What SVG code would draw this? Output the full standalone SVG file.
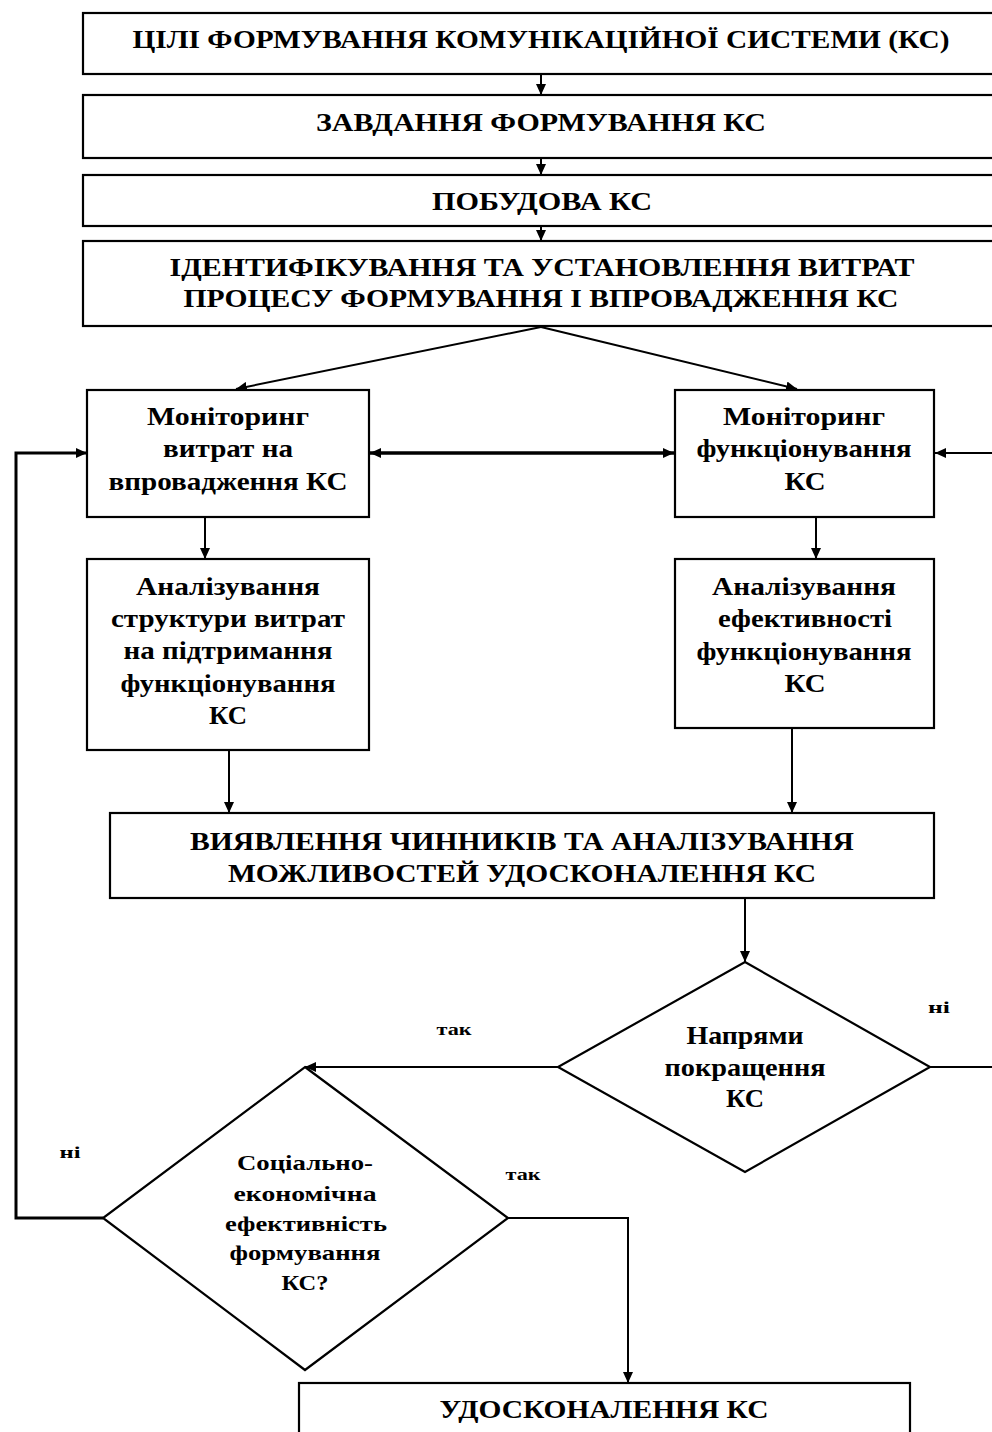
<svg xmlns="http://www.w3.org/2000/svg" width="992" height="1432" viewBox="0 0 992 1432">
<style>
.box{fill:#fff;stroke:#000;stroke-width:2.2}
.t{font-family:"Liberation Serif","Times New Roman",serif;font-weight:bold;fill:#000;text-anchor:middle;lengthAdjust:spacingAndGlyphs}
.big{font-size:26px}
.mid{font-size:25px}
.sm{font-size:22px}
.lbl{font-size:16px}
.c{fill:none;stroke:#000;stroke-width:2}
</style>
<defs>
<marker id="ah" markerUnits="userSpaceOnUse" markerWidth="12" markerHeight="10" refX="11" refY="5" orient="auto-start-reverse">
<path d="M0,0 L11,5 L0,10 z" fill="#000"/>
</marker>
</defs>
<rect width="992" height="1432" fill="#fff"/>

<g id="connectors">
<path class="c" d="M541,75 L541,95" marker-end="url(#ah)"/>
<path class="c" d="M541,159 L541,175" marker-end="url(#ah)"/>
<path class="c" d="M541,227 L541,241" marker-end="url(#ah)"/>
<path class="c" d="M541,327 L236,389" marker-end="url(#ah)"/>
<path class="c" d="M541,327 L797,389" marker-end="url(#ah)"/>
<path class="c" style="stroke-width:3.5" d="M370,453 L674,453" marker-start="url(#ah)" marker-end="url(#ah)"/>
<path class="c" d="M205,518 L205,559" marker-end="url(#ah)"/>
<path class="c" d="M816,518 L816,559" marker-end="url(#ah)"/>
<path class="c" d="M229,751 L229,813" marker-end="url(#ah)"/>
<path class="c" d="M792,729 L792,813" marker-end="url(#ah)"/>
<path class="c" d="M745,899 L745,962" marker-end="url(#ah)"/>
<path class="c" d="M558,1067 L305,1067" marker-end="url(#ah)"/>
<path class="c" d="M930,1067 L1010,1067 L1010,453 L935,453" marker-end="url(#ah)"/>
<path class="c" style="stroke-width:3" d="M103,1218 L16,1218 L16,453 L87,453" marker-end="url(#ah)"/>
<path class="c" d="M508,1218 L628,1218 L628,1383" marker-end="url(#ah)"/>
</g>

<g id="n1">
<rect class="box" x="83" y="13" width="930" height="61"/>
<text class="t big" x="541" y="48" textLength="817" lengthAdjust="spacingAndGlyphs">ЦІЛІ ФОРМУВАННЯ КОМУНІКАЦІЙНОЇ СИСТЕМИ (КС)</text>
</g>
<g id="n2">
<rect class="box" x="83" y="95" width="930" height="63"/>
<text class="t big" x="541" y="131" textLength="450" lengthAdjust="spacingAndGlyphs">ЗАВДАННЯ ФОРМУВАННЯ КС</text>
</g>
<g id="n3">
<rect class="box" x="83" y="175" width="930" height="51"/>
<text class="t big" x="542" y="210" textLength="220" lengthAdjust="spacingAndGlyphs">ПОБУДОВА КС</text>
</g>
<g id="n4">
<rect class="box" x="83" y="241" width="930" height="85"/>
<text class="t big" x="542" y="276" textLength="745" lengthAdjust="spacingAndGlyphs">ІДЕНТИФІКУВАННЯ ТА УСТАНОВЛЕННЯ ВИТРАТ</text>
<text class="t big" x="541" y="307" textLength="715" lengthAdjust="spacingAndGlyphs">ПРОЦЕСУ ФОРМУВАННЯ І ВПРОВАДЖЕННЯ КС</text>
</g>
<g id="n5">
<rect class="box" x="87" y="390" width="282" height="127"/>
<text class="t mid" x="228" y="425" textLength="162" lengthAdjust="spacingAndGlyphs">Моніторинг</text>
<text class="t mid" x="228" y="457" textLength="130" lengthAdjust="spacingAndGlyphs">витрат на</text>
<text class="t mid" x="228" y="490" textLength="239" lengthAdjust="spacingAndGlyphs">впровадження КС</text>
</g>
<g id="n6">
<rect class="box" x="675" y="390" width="259" height="127"/>
<text class="t mid" x="804" y="425" textLength="162" lengthAdjust="spacingAndGlyphs">Моніторинг</text>
<text class="t mid" x="804" y="457" textLength="215" lengthAdjust="spacingAndGlyphs">функціонування</text>
<text class="t mid" x="805" y="490" textLength="41" lengthAdjust="spacingAndGlyphs">КС</text>
</g>
<g id="n7">
<rect class="box" x="87" y="559" width="282" height="191"/>
<text class="t mid" x="228" y="595" textLength="184" lengthAdjust="spacingAndGlyphs">Аналізування</text>
<text class="t mid" x="228" y="627" textLength="234" lengthAdjust="spacingAndGlyphs">структури витрат</text>
<text class="t mid" x="228" y="659" textLength="209" lengthAdjust="spacingAndGlyphs">на підтримання</text>
<text class="t mid" x="228" y="692" textLength="215" lengthAdjust="spacingAndGlyphs">функціонування</text>
<text class="t mid" x="228" y="724" textLength="38" lengthAdjust="spacingAndGlyphs">КС</text>
</g>
<g id="n8">
<rect class="box" x="675" y="559" width="259" height="169"/>
<text class="t mid" x="804" y="595" textLength="184" lengthAdjust="spacingAndGlyphs">Аналізування</text>
<text class="t mid" x="805" y="627" textLength="174" lengthAdjust="spacingAndGlyphs">ефективності</text>
<text class="t mid" x="804" y="660" textLength="215" lengthAdjust="spacingAndGlyphs">функціонування</text>
<text class="t mid" x="805" y="692" textLength="41" lengthAdjust="spacingAndGlyphs">КС</text>
</g>
<g id="n9">
<rect class="box" x="110" y="813" width="824" height="85"/>
<text class="t big" x="522" y="850" textLength="664" lengthAdjust="spacingAndGlyphs">ВИЯВЛЕННЯ ЧИННИКІВ ТА АНАЛІЗУВАННЯ</text>
<text class="t big" x="522" y="882" textLength="588" lengthAdjust="spacingAndGlyphs">МОЖЛИВОСТЕЙ УДОСКОНАЛЕННЯ КС</text>
</g>
<g id="d1">
<polygon class="box" points="745,962 930,1067 745,1172 558,1067"/>
<text class="t mid" x="745" y="1044" textLength="117" lengthAdjust="spacingAndGlyphs">Напрями</text>
<text class="t mid" x="745" y="1076" textLength="161" lengthAdjust="spacingAndGlyphs">покращення</text>
<text class="t mid" x="745" y="1107" textLength="38" lengthAdjust="spacingAndGlyphs">КС</text>
</g>
<g id="d2">
<polygon class="box" points="305,1067 508,1218 305,1370 103,1218"/>
<text class="t sm" x="305" y="1170" textLength="136" lengthAdjust="spacingAndGlyphs">Соціально-</text>
<text class="t sm" x="305" y="1201" textLength="143" lengthAdjust="spacingAndGlyphs">економічна</text>
<text class="t sm" x="306" y="1231" textLength="162" lengthAdjust="spacingAndGlyphs">ефективність</text>
<text class="t sm" x="305" y="1260" textLength="151" lengthAdjust="spacingAndGlyphs">формування</text>
<text class="t sm" x="305" y="1290" textLength="47" lengthAdjust="spacingAndGlyphs">КС?</text>
</g>
<g id="n10">
<rect class="box" x="299" y="1383" width="611" height="60"/>
<text class="t big" x="604" y="1418" textLength="329" lengthAdjust="spacingAndGlyphs">УДОСКОНАЛЕННЯ КС</text>
</g>
<g id="labels">
<text class="t lbl" x="454" y="1035" textLength="35" lengthAdjust="spacingAndGlyphs">так</text>
<text class="t lbl" x="939" y="1013" textLength="22" lengthAdjust="spacingAndGlyphs">ні</text>
<text class="t lbl" x="70" y="1158" textLength="21" lengthAdjust="spacingAndGlyphs">ні</text>
<text class="t lbl" x="523" y="1180" textLength="35" lengthAdjust="spacingAndGlyphs">так</text>
</g>
</svg>
